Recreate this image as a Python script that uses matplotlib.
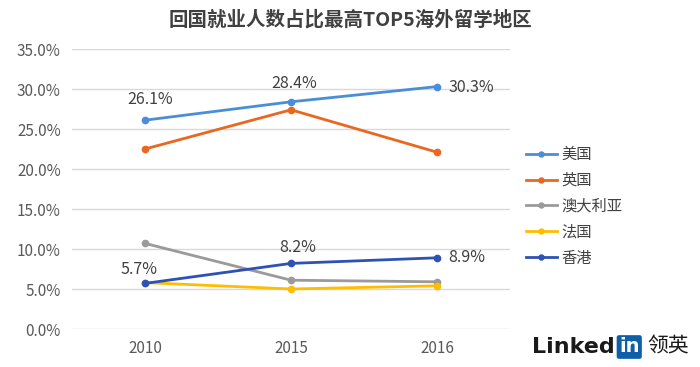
import matplotlib.pyplot as plt

plt.rcParams["font.family"] = ["Noto Sans CJK SC", "DejaVu Sans"]

years = ["2010", "2015", "2016"]
regions = ["美国", "英国", "澳大利亚", "法国", "香港"]
usa = [26.1, 28.4, 30.3]
uk = [22.5, 27.4, 22.1]
australia = [10.7, 6.1, 5.9]
france = [5.8, 5.0, 5.4]
hongkong = [5.7, 8.2, 8.9]
colors = ["#4a8ed8", "#ea671f", "#9a9a9a", "#ffbd00", "#2d52b6"]

fig = plt.figure(figsize=(7, 3.67), dpi=100)
ax = fig.add_axes([72 / 700, 1 - 329 / 367, 438 / 700, 280 / 367])

x = range(len(years))
for vals, name, c in zip([usa, uk, australia, france, hongkong], regions, colors):
    ax.plot(x, vals, color=c, lw=2, marker="o", ms=4.5, label=name)

ax.set_xlim(-0.5, 2.5)
ax.set_ylim(0, 35)
ax.set_yticks([0, 5, 10, 15, 20, 25, 30, 35])
ax.set_yticklabels([f"{v:.1f}%" for v in range(0, 40, 5)])
ax.set_xticks(list(x))
ax.set_xticklabels(years)
ax.tick_params(length=0, labelsize=11, colors="#595959", pad=8)
ax.grid(axis="y", color="#d9d9d9", lw=1)
ax.set_axisbelow(True)
for s in ax.spines.values():
    s.set_visible(False)

# value labels for US and Hong Kong
lab_kw = dict(fontsize=11.5, color="#404040")
ax.annotate(f"{usa[0]}%", (0, usa[0]), xytext=(4, 12), textcoords="offset points", ha="center", **lab_kw)
ax.annotate(f"{usa[1]}%", (1, usa[1]), xytext=(2, 10), textcoords="offset points", ha="center", **lab_kw)
ax.annotate(f"{usa[2]}%", (2, usa[2]), xytext=(8, -1), textcoords="offset points", ha="left", va="center", **lab_kw)
ax.annotate(f"{hongkong[0]}%", (0, hongkong[0]), xytext=(-4, 7), textcoords="offset points", ha="center", **lab_kw)
ax.annotate(f"{hongkong[1]}%", (1, hongkong[1]), xytext=(5, 8), textcoords="offset points", ha="center", **lab_kw)
ax.annotate(f"{hongkong[2]}%", (2, hongkong[2]), xytext=(8, 0), textcoords="offset points", ha="left", va="center", **lab_kw)

ax.legend(loc="upper left", bbox_to_anchor=(520 / 700, 1 - 140 / 367), bbox_transform=fig.transFigure,
          frameon=False, fontsize=11, handlelength=2.0, handletextpad=0.3, labelspacing=0.58,
          labelcolor="#404040", borderaxespad=0, markerscale=0.8)

fig.text(0.5, 1 - 20 / 367, "回国就业人数占比最高TOP5海外留学地区", ha="center", va="center",
         fontsize=14, fontweight="bold", color="#404040")

# LinkedIn logo
fig.text(532 / 700, 1 - 347 / 367, "Linked", ha="left", va="center", fontsize=16,
         fontweight="bold", color="#1a1a1a", family="DejaVu Sans")
fig.text(619 / 700, 1 - 347 / 367, "in", ha="left", va="center", fontsize=14,
         fontweight="bold", color="white", family="DejaVu Sans",
         bbox=dict(boxstyle="round,pad=0.12", fc="#0e5ea8", ec="none"))
fig.text(647 / 700, 1 - 347 / 367, "领英", ha="left", va="center", fontsize=15, color="#1a1a1a")

fig.savefig("out.png", dpi=100)
